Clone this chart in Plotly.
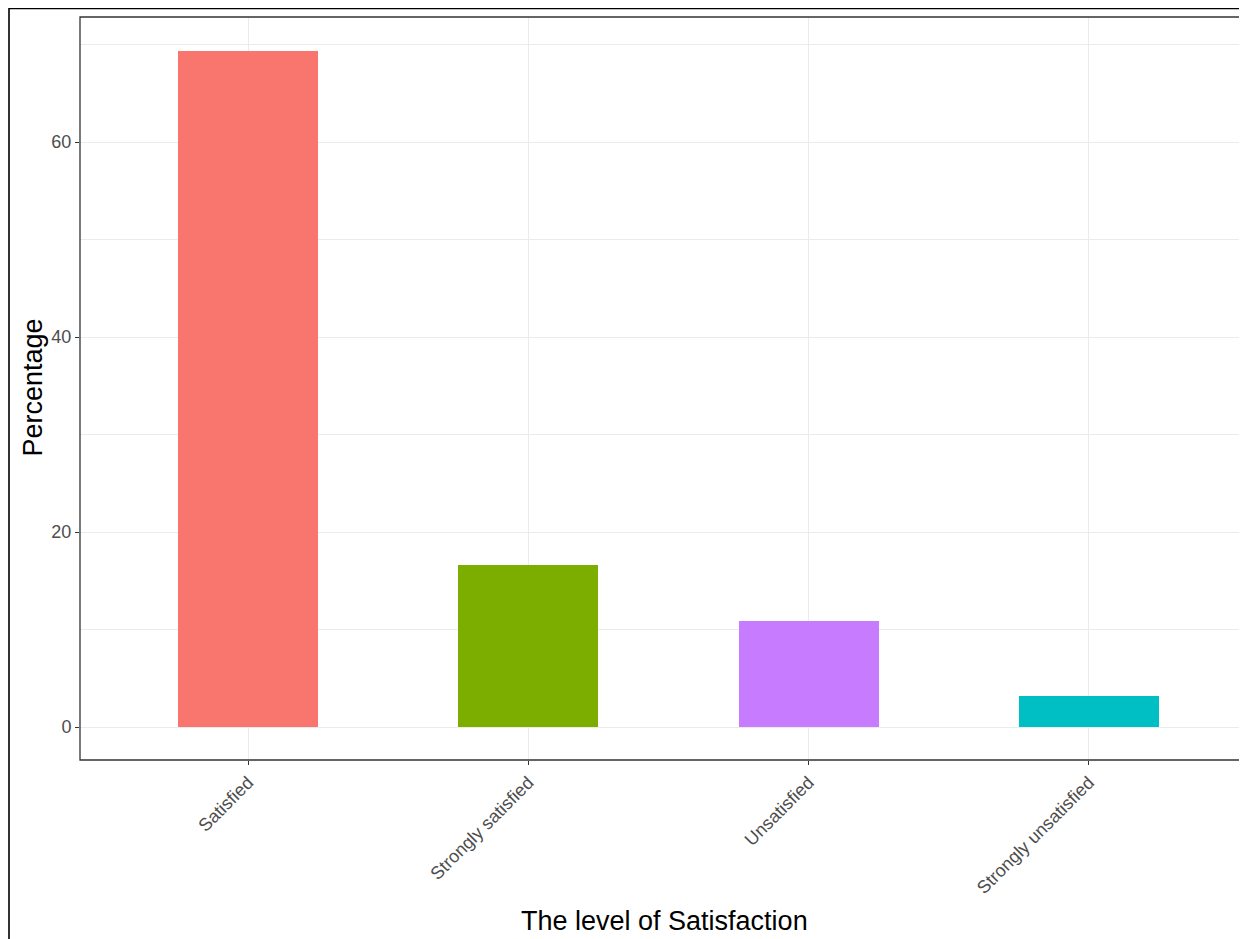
import plotly.graph_objects as go

categories = ["Satisfied", "Strongly satisfied", "Unsatisfied", "Strongly unsatisfied"]
percentages = [69.3, 16.6, 10.9, 3.2]
bar_colors = ["#F8766D", "#7CAE00", "#C77CFF", "#00BFC4"]
y_tick_vals = [0, 20, 40, 60]
y_tick_text = ["0", "20", "40", "60"]

# The page body adds an 8px offset; lay out in page pixels minus 8.
OFF = 8
W, H = 1247 - OFF, 939 - OFF
L, T = 80 - OFF, 17 - OFF
ph = 743
B = H - T - ph
R = 0
pw = W - L - R


def py(page_y):
    return (760 - page_y) / ph


def px(page_x):
    return (page_x - 80) / pw


fig = go.Figure()
fig.add_trace(go.Bar(
    x=categories, y=percentages, width=0.5,
    marker=dict(color=bar_colors, line=dict(width=0)),
    showlegend=False,
))

tickfont = dict(family="Liberation Sans, Arial, sans-serif", size=18, color="#4D4D4D")
titlefont = dict(family="Liberation Sans, Arial, sans-serif", size=27, color="#000000")

fig.update_layout(
    width=W, height=H,
    margin=dict(l=L, r=R, t=T, b=B, autoexpand=False),
    paper_bgcolor="white", plot_bgcolor="white",
    bargap=0,
    xaxis=dict(
        type="category", categoryorder="array", categoryarray=categories,
        range=[-0.6, 3.6 - 10 / 278.7],
        showgrid=True, gridcolor="#EBEBEB", gridwidth=1.1,
        ticks="outside", ticklen=4, tickcolor="#333333", tickwidth=1.1,
        tickangle=-45, tickfont=tickfont,
        showline=False, zeroline=False,
    ),
    yaxis=dict(
        range=[-3.385, 72.82],
        tickvals=y_tick_vals, ticktext=y_tick_text,
        showgrid=True, gridcolor="#EBEBEB", gridwidth=1.1,
        minor=dict(tick0=10, dtick=20, showgrid=True, gridcolor="#EBEBEB", gridwidth=0.6, ticks=""),
        ticks="outside", ticklen=4, tickcolor="#333333", tickwidth=1.1,
        tickfont=tickfont,
        showline=False, zeroline=False,
    ),
    annotations=[
        dict(text="The level of Satisfaction", xref="paper", yref="paper",
             x=0.5 + 1 / pw, y=py(921), xanchor="center", yanchor="middle",
             showarrow=False, font=titlefont),
        dict(text="Percentage", xref="paper", yref="paper",
             x=px(32), y=py(387.5), xanchor="center", yanchor="middle",
             textangle=-90, showarrow=False, font=titlefont),
    ],
    shapes=[
        # panel border (right edge falls outside the image)
        dict(type="rect", xref="paper", yref="paper", x0=0, x1=1.01, y0=0, y1=1,
             line=dict(color="#333333", width=1.3), fillcolor="rgba(0,0,0,0)", layer="above"),
        # outer frame
        dict(type="rect", xref="paper", yref="paper",
             x0=px(9), x1=1.2, y0=-1.0, y1=py(8.5),
             line=dict(color="#000000", width=1.6), fillcolor="rgba(0,0,0,0)", layer="above"),
    ],
)

fig.write_html("out.html")
